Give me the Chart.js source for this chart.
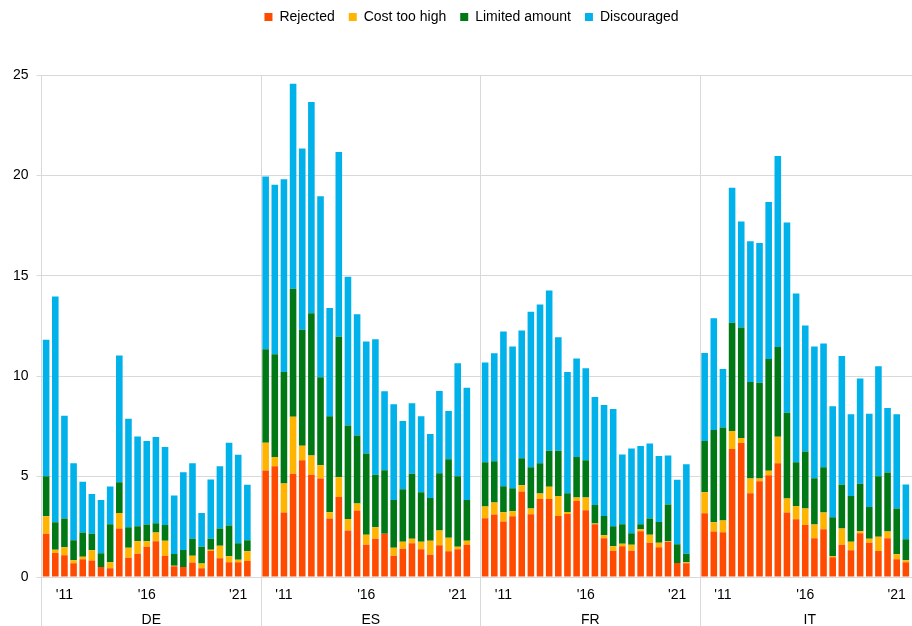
<!DOCTYPE html>
<html>
<head>
<meta charset="utf-8">
<script src="https://cdn.jsdelivr.net/npm/chart.js@4/dist/chart.umd.min.js"></script>
<style>
  html, body { margin: 0; padding: 0; background: #fff; overflow: hidden; width: 912px; height: 626px; }
  #wrap { width: 926px; height: 626px; }
</style>
</head>
<body>
<div id="wrap"><canvas id="chart" width="926" height="626"></canvas></div>
<script>
const countries = ['DE', 'ES', 'FR', 'IT'];
// 24 half-year slots per country, the last one is left empty
const yearTicks = ['', '', "'11", '', '', '', '', '', '', '', '', "'16", '', '', '', '', '', '', '', '', '', "'21", '', ''];

const seriesNames = ['Rejected', 'Cost too high', 'Limited amount', 'Discouraged'];
const seriesColors = ['#FF4B00', '#FFB400', '#007816', '#00B1EA'];

const deRejected = [2.16, 1.20, 1.08, 0.68, 0.88, 0.82, 0.50, 0.43, 2.41, 0.96, 1.16, 1.51, 1.78, 1.06, 0.53, 0.50, 0.72, 0.43, 1.30, 0.93, 0.73, 0.73, 0.80];
const deCost = [0.87, 0.16, 0.40, 0.15, 0.13, 0.51, 0.00, 0.30, 0.78, 0.50, 0.62, 0.27, 0.43, 0.75, 0.03, 0.00, 0.34, 0.24, 0.06, 0.63, 0.30, 0.13, 0.48];
const deLimited = [1.99, 1.37, 1.43, 1.00, 1.20, 0.82, 0.68, 1.90, 1.53, 1.02, 0.75, 0.83, 0.47, 0.78, 0.58, 0.85, 0.85, 0.84, 0.55, 0.85, 1.53, 0.82, 0.55];
const deDiscouraged = [6.79, 11.24, 5.12, 3.83, 2.53, 1.98, 2.66, 1.88, 6.31, 5.40, 4.47, 4.16, 4.29, 3.88, 2.92, 3.87, 3.75, 1.68, 2.95, 3.10, 4.13, 4.41, 2.76];

const esRejected = [5.31, 5.52, 3.21, 5.14, 5.81, 5.09, 4.91, 2.91, 3.98, 2.31, 3.31, 1.61, 1.91, 2.16, 1.06, 1.41, 1.68, 1.38, 1.11, 1.58, 1.28, 1.38, 1.61];
const esCost = [1.38, 0.45, 1.45, 2.84, 0.73, 0.96, 0.65, 0.32, 0.99, 0.58, 0.35, 0.49, 0.57, 0.00, 0.40, 0.34, 0.22, 0.37, 0.70, 0.73, 0.67, 0.13, 0.19];
const esLimited = [4.65, 5.12, 5.55, 6.37, 5.77, 7.09, 4.39, 4.77, 7.00, 4.66, 3.39, 4.05, 2.61, 3.16, 2.38, 2.62, 3.24, 2.47, 2.12, 2.86, 3.92, 3.51, 2.04];
const esDiscouraged = [8.60, 8.45, 9.60, 10.22, 9.03, 10.51, 9.01, 5.40, 9.20, 7.40, 6.04, 5.58, 6.75, 3.93, 4.76, 3.40, 3.51, 3.78, 3.19, 4.09, 2.40, 5.63, 5.59];

const frRejected = [2.93, 3.11, 2.76, 3.03, 4.26, 3.13, 3.88, 3.88, 3.04, 3.14, 3.78, 3.33, 2.63, 1.93, 1.31, 1.53, 1.31, 2.28, 1.70, 1.48, 1.75, 0.70, 0.68];
const frCost = [0.58, 0.60, 0.47, 0.25, 0.31, 0.28, 0.28, 0.61, 1.00, 0.10, 0.18, 0.63, 0.03, 0.15, 0.22, 0.13, 0.30, 0.10, 0.41, 0.22, 0.03, 0.00, 0.05];
const frLimited = [2.21, 2.05, 1.29, 1.14, 1.35, 2.06, 1.51, 1.80, 2.25, 0.93, 2.01, 1.86, 0.92, 0.96, 1.00, 0.97, 0.57, 0.25, 0.80, 1.04, 1.83, 0.93, 0.43];
const frDiscouraged = [4.96, 5.38, 7.71, 7.06, 6.36, 7.74, 7.90, 7.98, 5.65, 6.04, 4.91, 4.58, 5.39, 5.53, 5.84, 3.47, 4.22, 3.89, 3.74, 3.28, 2.44, 3.21, 4.46];

const itRejected = [3.18, 2.26, 2.23, 6.37, 6.67, 4.17, 4.77, 5.07, 5.67, 3.21, 2.88, 2.59, 1.93, 2.38, 0.98, 1.61, 1.33, 2.18, 1.70, 1.30, 1.93, 0.88, 0.73];
const itCost = [1.04, 0.47, 0.58, 0.90, 0.25, 0.74, 0.14, 0.22, 1.32, 0.70, 0.66, 0.82, 0.68, 0.83, 0.07, 0.80, 0.43, 0.10, 0.20, 0.70, 0.33, 0.25, 0.10];
const itLimited = [2.55, 4.59, 4.64, 5.39, 5.50, 4.80, 4.77, 5.57, 4.47, 4.27, 2.18, 2.84, 2.31, 2.26, 1.93, 2.18, 2.28, 2.36, 1.58, 3.02, 2.95, 2.28, 1.05];
const itDiscouraged = [4.39, 5.57, 2.91, 6.73, 5.29, 7.01, 6.95, 7.82, 9.51, 9.48, 8.40, 6.27, 6.56, 6.16, 5.52, 6.42, 4.06, 5.24, 4.65, 5.48, 3.21, 4.69, 2.73];

// one long category axis: country blocks of 24 slots, empty slot at the end of each block
function joinBlocks(blocks) {
  let out = [];
  blocks.forEach(b => { out = out.concat(b, [null]); });
  return out;
}

const labels = [];
countries.forEach(() => yearTicks.forEach(t => labels.push(t)));

const seriesData = [
  joinBlocks([deRejected, esRejected, frRejected, itRejected]),
  joinBlocks([deCost, esCost, frCost, itCost]),
  joinBlocks([deLimited, esLimited, frLimited, itLimited]),
  joinBlocks([deDiscouraged, esDiscouraged, frDiscouraged, itDiscouraged])
];

const gridGray = '#d9d9d9';
Chart.defaults.font.family = "Arial, 'Liberation Sans', sans-serif";
Chart.defaults.font.size = 14;
Chart.defaults.color = '#000';

// push the plot down below the legend, nudge the legend right and up a bit
const legendGap = {
  id: 'legendGap',
  beforeInit(chart) {
    const fit = chart.legend.fit;
    chart.legend.fit = function () {
      fit.call(this);
      this.height += 37;
    };
  },
  afterLayout(chart) {
    chart.legend.left += 6;
    chart.legend.right += 6;
    chart.legend.top -= 4;
    chart.legend.bottom -= 4;
  }
};

// second level of the x axis: country names and the block separators below the plot
const groupAxis = {
  id: 'groupAxis',
  afterDraw(chart) {
    const { ctx, chartArea } = chart;
    const x = chart.scales.x;
    const slot = x.getPixelForValue(1) - x.getPixelForValue(0);
    const n = yearTicks.length;
    ctx.save();
    ctx.strokeStyle = gridGray;
    ctx.lineWidth = 1;
    ctx.fillStyle = '#000';
    ctx.font = "14px Arial, 'Liberation Sans', sans-serif";
    ctx.textAlign = 'center';
    ctx.textBaseline = 'middle';
    countries.forEach((c, k) => {
      const left = x.getPixelForValue(k * n) - slot / 2;
      const px = Math.round(left - 0.5) + 0.5;
      ctx.beginPath();
      ctx.moveTo(px, chartArea.bottom);
      ctx.lineTo(px, chart.height);
      ctx.stroke();
      ctx.fillText(c, left + slot * n / 2, chartArea.bottom + 43);
    });
    ctx.restore();
  }
};

new Chart(document.getElementById('chart').getContext('2d'), {
  type: 'bar',
  data: {
    labels: labels,
    datasets: seriesNames.map((name, i) => ({
      label: name,
      data: seriesData[i],
      backgroundColor: seriesColors[i],
      borderWidth: 0,
      barPercentage: 0.72,
      categoryPercentage: 1.0
    }))
  },
  options: {
    responsive: false,
    animation: false,
    layout: { padding: { left: 5, right: 0, top: 0, bottom: 13 } },
    plugins: {
      tooltip: { enabled: false },
      legend: {
        position: 'top',
        labels: { boxWidth: 8, boxHeight: 8, padding: 14, font: { size: 14 } }
      }
    },
    scales: {
      x: {
        stacked: true,
        offset: true,
        grid: {
          offset: true,
          drawOnChartArea: true,
          drawTicks: false,
          color: ctx => (ctx.index % 24 === 0 ? gridGray : 'rgba(0,0,0,0)')
        },
        border: { display: false },
        ticks: { autoSkip: false, maxRotation: 0, padding: 11, font: { size: 14, lineHeight: 1 } }
      },
      y: {
        stacked: true,
        min: 0,
        max: 25,
        ticks: { stepSize: 5, padding: 8, font: { size: 14 } },
        grid: { color: gridGray, tickLength: 5 },
        border: { color: gridGray }
      }
    }
  },
  plugins: [legendGap, groupAxis]
});
</script>
</body>
</html>
